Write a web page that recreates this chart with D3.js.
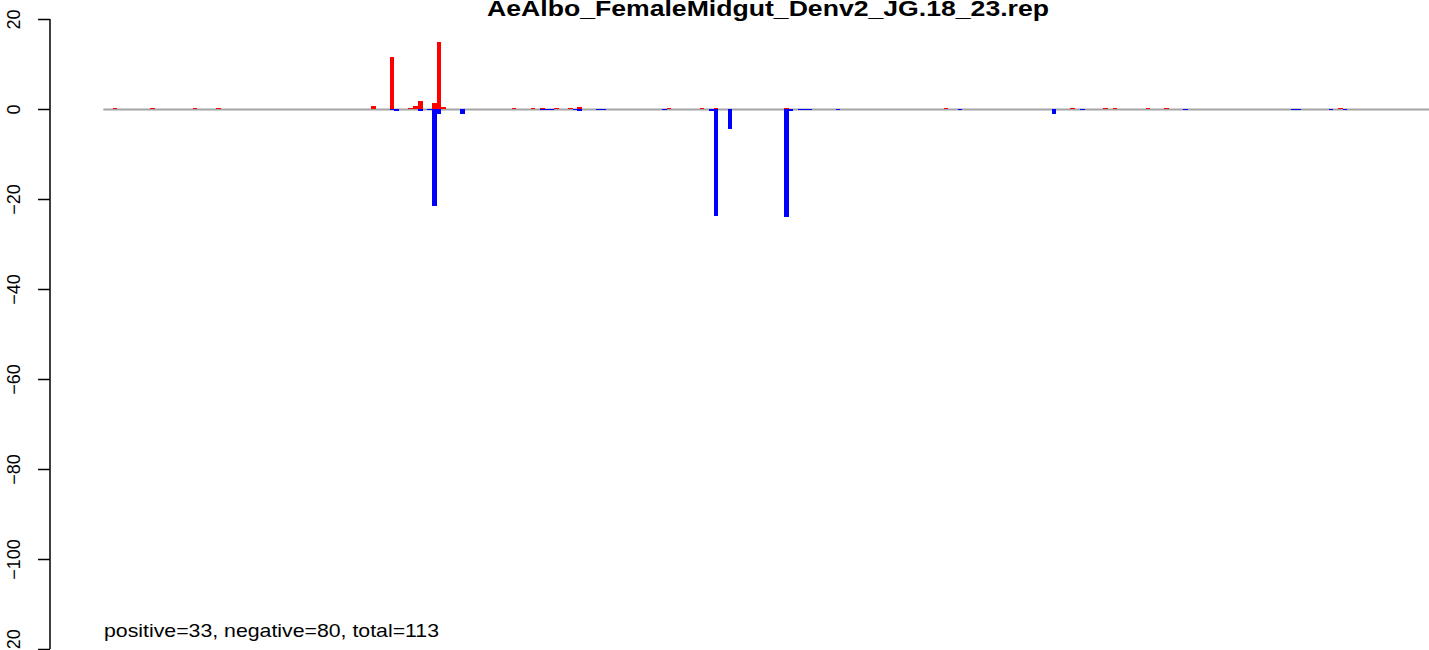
<!DOCTYPE html>
<html>
<head>
<meta charset="utf-8">
<script src="https://cdn.jsdelivr.net/npm/d3@7"></script>
<style>
  html, body { margin: 0; padding: 0; background: #ffffff; }
  svg { display: block; }
</style>
</head>
<body>
<svg id="chart" width="1429" height="650"></svg>
<script>
// ---- data ----
const chartTitle = "AeAlbo_FemaleMidgut_Denv2_JG.18_23.rep";
const summaryText = "positive=33, negative=80, total=113";
const slotCount = 284;
const yTicks = [20, 0, -20, -40, -60, -80, -100, -120];

const redPos = [2, 10, 19, 24, 57, 61, 65, 66, 67, 70, 71, 72, 87, 91, 93, 96, 99, 101, 120, 127, 130, 145, 179, 206, 213, 215, 222, 226, 263];
const redVal = [0.25, 0.25, 0.25, 0.25, 0.6, 11.6, 0.25, 0.6, 1.7, 1.3, 15.0, 0.4, 0.25, 0.25, 0.25, 0.25, 0.25, 0.5, 0.25, 0.25, 0.25, 0.25, 0.25, 0.25, 0.25, 0.25, 0.25, 0.25, 0.25];

const bluePos = [61, 62, 67, 69, 70, 71, 76, 93, 94, 95, 100, 101, 105, 106, 119, 129, 130, 133, 145, 146, 148, 149, 150, 156, 182, 202, 208, 230, 253, 254, 261, 264];
const blueVal = [-0.25, -0.5, -0.5, -0.25, -21.6, -1.1, -1.1, -0.25, -0.25, -0.25, -0.25, -0.4, -0.25, -0.25, -0.25, -0.5, -23.8, -4.5, -24.1, -0.5, -0.25, -0.25, -0.25, -0.25, -0.25, -1.0, -0.25, -0.25, -0.25, -0.25, -0.25, -0.25];

// ---- layout ----
const svg = d3.select("#chart");
const x = d3.scaleLinear().domain([0, slotCount]).range([103.3, 103.3 + slotCount * 4.695]);
const y = d3.scaleLinear().domain([-120, 20]).range([649.0, 19.0]);
const font = "'Liberation Sans', Arial, sans-serif";

const redData = redPos.map((p, i) => ({ p, v: redVal[i] }));
const blueData = bluePos.map((p, i) => ({ p, v: blueVal[i] }));

// baseline (drawn beneath bars)
svg.append("line")
  .attr("x1", x(0)).attr("x2", x(slotCount))
  .attr("y1", y(0) + 0.4).attr("y2", y(0) + 0.4)
  .attr("stroke", "#a4a4a4").attr("stroke-width", 2);

function drawBars(data, color) {
  svg.append("g").selectAll("rect").data(data).enter().append("rect")
    .attr("x", d => x(d.p))
    .attr("width", d => x(d.p + 1) - x(d.p))
    .attr("y", d => y(Math.max(0, d.v)))
    .attr("height", d => Math.max(1, Math.abs(y(d.v) - y(0))))
    .attr("fill", color)
    .attr("shape-rendering", "crispEdges");
}
drawBars(redData, "#ff0000");
drawBars(blueData, "#0000ff");

// y axis
const axisG = svg.append("g").attr("transform", "translate(50,0)");
axisG.call(d3.axisLeft(y).tickValues(yTicks).tickSize(12).tickFormat(d => d < 0 ? "\u2212" + Math.abs(d) : String(d)));
axisG.select(".domain").attr("stroke", "#000").attr("stroke-width", 1.5).attr("d", `M0,${y(20)}V${y(-120)}`);
axisG.selectAll(".tick line").attr("stroke", "#000").attr("stroke-width", 1.5);
axisG.selectAll(".tick text")
  .attr("font-family", font).attr("font-size", 18).attr("fill", "#000")
  .attr("text-anchor", "middle")
  .attr("x", 0).attr("dy", 0)
  .attr("transform", "translate(-36,0) rotate(-90)")
  .attr("dominant-baseline", "central");

// title
svg.append("text")
  .attr("x", 768).attr("y", 16)
  .attr("text-anchor", "middle")
  .attr("font-family", font).attr("font-weight", "bold").attr("font-size", 22)
  .attr("textLength", 562).attr("lengthAdjust", "spacingAndGlyphs")
  .text(chartTitle);

// summary
svg.append("text")
  .attr("x", 104).attr("y", 637)
  .attr("font-family", font).attr("font-size", 18.5)
  .attr("textLength", 335).attr("lengthAdjust", "spacingAndGlyphs")
  .text(summaryText);
</script>
</body>
</html>
